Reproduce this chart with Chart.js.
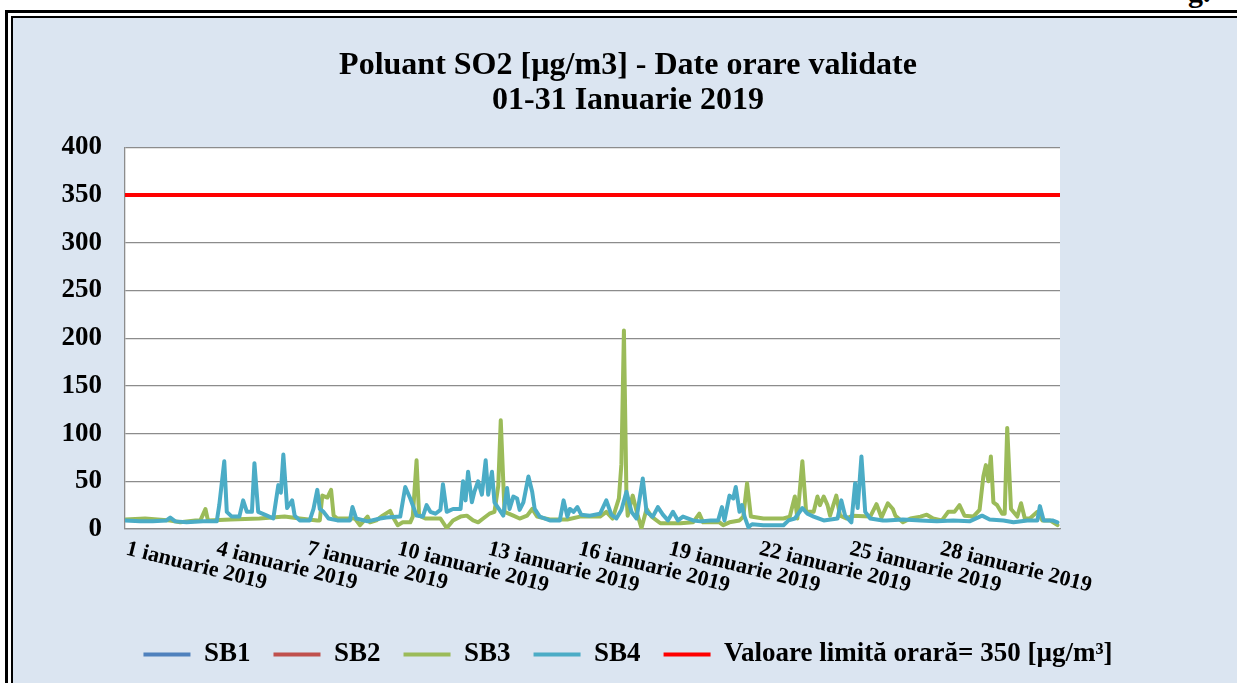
<!DOCTYPE html>
<html>
<head>
<meta charset="utf-8">
<script src="https://cdn.jsdelivr.net/npm/chart.js@4.4.0/dist/chart.umd.min.js"></script>
<style>
html,body{margin:0;padding:0;background:#fff;overflow:hidden;width:1237px;height:683px;}
#outer{position:absolute;left:5px;top:10px;width:1300px;height:800px;border-left:3px solid #000;border-top:3px solid #000;background:#fff;}
#inner{position:absolute;left:11px;top:16px;width:1300px;height:800px;border-left:2px solid #000;border-top:2px solid #000;background:#dbe5f1;}
#frag{position:absolute;left:1188px;top:-25px;font:bold 30px 'Liberation Serif',serif;color:#000;}
#wrap{position:absolute;left:0;top:0;width:1237px;height:683px;}
</style>
</head>
<body>
<div id="outer"></div>
<div id="inner"></div>
<div id="frag">g.</div>
<div id="wrap"><canvas id="chart" width="1237" height="683"></canvas></div>
<script>
const titleLines=["Poluant SO2 [µg/m3] - Date orare validate","01-31 Ianuarie 2019"];
const seriesNames=["SB1","SB2","SB3","SB4","Valoare limită orară= 350 [µg/m³]"];

// x in hours from 1 ianuarie 00:00
const tickDays=[1,4,7,10,13,16,19,22,25,28];
const tickLabels=tickDays.map(d=>d+" ianuarie 2019");
const totalHours=744;

const yTicks=[0,50,100,150,200,250,300,350,400];
const limitValue=350;

const sb1Hours=[];
const sb1Values=[];
const sb2Hours=[];
const sb2Values=[];

const sb3Hours=[0,16,36,44,56,60,64,66,84,107,127,139,153,155,157,161,164,166,169,183,187,193,195,200,205,211,213,217,221,227,229,232,234,239,251,256,261,267,272,277,281,285,290,294,297,299,302,309,314,320,324,328,338,352,362,378,383,388,393,395,397,399,400,404,408,411,415,419,426,442,452,457,460,466,473,476,481,489,492,495,498,508,524,529,533,535,539,542,548,551,553,556,559,561,566,569,574,579,593,598,602,607,611,613,619,625,633,638,643,650,655,660,664,668,675,680,683,685,687,689,691,694,698,700,702,705,710,713,716,720,726,730,736,742];
const sb3Values=[10,11,9,7,9,9,21,9,10,11,13,11,9,9,35,33,41,14,11,11,4,13,7,9,14,19,13,4,7,7,13,72,14,11,11,1,9,13,14,9,7,11,16,18,45,114,18,14,11,14,21,13,10,10,13,13,18,11,32,68,208,35,14,35,14,1,21,13,6,6,7,16,7,7,7,4,7,9,13,48,13,11,11,13,34,11,71,18,18,34,25,34,25,14,35,14,11,14,13,26,12,27,21,14,7,11,13,15,11,9,18,18,25,14,13,20,55,67,50,76,28,25,16,16,106,21,13,27,11,11,18,9,9,4];

const sb4Hours=[0,12,22,33,36,40,49,62,73,75,79,81,85,91,94,97,101,103,106,113,118,122,124,126,129,133,135,139,147,150,153,155,158,162,169,179,181,184,193,203,208,219,223,227,232,237,240,243,247,251,253,256,261,267,269,271,273,276,278,281,284,287,289,292,294,298,301,304,306,309,312,314,317,321,324,326,330,338,346,349,352,354,357,360,363,370,378,383,387,391,395,399,403,407,412,415,420,424,428,432,436,440,444,452,458,466,472,475,477,481,484,486,489,491,493,496,499,508,519,524,528,533,539,543,548,556,567,570,573,578,581,583,586,589,593,603,606,619,633,646,659,672,682,688,699,707,718,726,728,731,738,742];
const sb4Values=[9,8,8,9,12,8,7,8,8,25,71,18,13,13,30,18,18,69,18,14,11,46,38,78,22,30,14,9,9,21,41,21,18,11,9,9,23,11,8,11,12,13,44,32,14,13,25,18,16,20,47,18,21,21,50,30,60,28,39,50,36,72,36,60,28,20,14,43,21,34,32,20,28,55,39,21,13,9,9,30,13,21,18,23,15,14,16,30,15,11,20,39,18,11,53,18,13,23,15,9,18,9,13,9,8,9,9,23,9,35,32,44,18,25,13,2,5,4,4,4,9,11,22,16,13,9,11,30,14,7,48,22,76,18,11,9,9,10,9,8,9,8,14,10,9,7,9,9,24,9,9,7];

const colors=["#4f81bd","#c0504d","#9bbb59","#4bacc6","#ff0000"];

function pts(hours,values){
return hours.map((h,i)=>({x:h,y:values[i]}));
}

const serif="'Liberation Serif','Times New Roman',serif";

const plotBg={
id:"plotBg",
beforeDraw(chart){
const a=chart.chartArea;
const ctx=chart.ctx;
ctx.save();
ctx.fillStyle="#fff";
ctx.fillRect(a.left,a.top,a.right-a.left,a.bottom-a.top);
ctx.restore();
}
};

// day labels slope down to the right, starting at their tick
const dayLabels={
id:"dayLabels",
afterDraw(chart){
const xs=chart.scales.x;
const ctx=chart.ctx;
ctx.save();
ctx.fillStyle="#000";
ctx.font="bold 22px "+serif;
ctx.textAlign="left";
ctx.textBaseline="top";
tickDays.forEach((d,i)=>{
const px=xs.getPixelForValue((d-1)*24);
ctx.save();
ctx.translate(px+4,xs.top+9);
ctx.rotate(14*Math.PI/180);
ctx.fillText(tickLabels[i],0,0);
ctx.restore();
});
ctx.restore();
}
};

const base={pointRadius:0,borderWidth:4,tension:0,borderJoinStyle:"round",borderCapStyle:"round",fill:false};

new Chart(document.getElementById("chart"),{
type:"line",
data:{
datasets:[
{...base,label:seriesNames[0],data:pts(sb1Hours,sb1Values),borderColor:colors[0],backgroundColor:colors[0],order:4},
{...base,label:seriesNames[1],data:pts(sb2Hours,sb2Values),borderColor:colors[1],backgroundColor:colors[1],order:3},
{...base,label:seriesNames[2],data:pts(sb3Hours,sb3Values),borderColor:colors[2],backgroundColor:colors[2],order:2},
{...base,label:seriesNames[3],data:pts(sb4Hours,sb4Values),borderColor:colors[3],backgroundColor:colors[3],order:1},
{...base,label:seriesNames[4],data:[{x:0,y:limitValue},{x:totalHours,y:limitValue}],borderColor:colors[4],backgroundColor:colors[4],order:0}
]
},
options:{
responsive:false,
animation:false,
layout:{padding:{top:38,left:19,right:0,bottom:5}},
plugins:{
title:{
display:true,
text:titleLines,
color:"#000",
font:{family:serif,size:32,weight:"bold",lineHeight:1.1},
padding:{top:10,bottom:29}
},
legend:{
position:"bottom",
labels:{
sort:(a,b)=>a.datasetIndex-b.datasetIndex,
usePointStyle:true,
pointStyle:"line",
pointStyleWidth:47,
color:"#000",
font:{family:serif,size:27,weight:"bold"},
padding:23
}
},
tooltip:{enabled:false}
},
scales:{
x:{
type:"linear",
min:0,
max:totalHours,
ticks:{display:false,stepSize:72},
grid:{display:false},
border:{display:true,color:"#8c8c8c",width:1.3},
afterFit(s){s.height=89;}
},
y:{
min:0,
max:400,
afterBuildTicks(s){s.ticks=yTicks.map(v=>({value:v}));},
ticks:{color:"#000",padding:23,font:{family:serif,size:27,weight:"bold"}},
grid:{color:"#8c8c8c",lineWidth:1.3,drawTicks:false},
border:{display:true,color:"#8c8c8c",width:1.3},
afterFit(s){s.width=106;}
},
yR:{
position:"right",
display:true,
ticks:{display:false},
grid:{display:false},
border:{display:false},
afterFit(s){s.width=177;}
}
}
},
plugins:[plotBg,dayLabels]
});
</script>
</body>
</html>
